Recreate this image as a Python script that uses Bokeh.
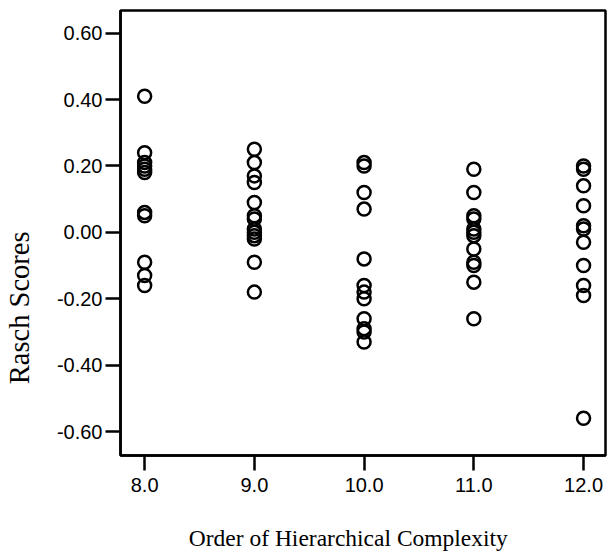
from bokeh.plotting import figure
from bokeh.models import Range1d, FixedTicker, LinearAxis, CustomJSTickFormatter
from bokeh.embed import file_html
from bokeh.resources import INLINE

# Data: Order of Hierarchical Complexity vs Rasch scores
ohc_8 = [0.41, 0.24, 0.21, 0.20, 0.19, 0.18, 0.06, 0.05, -0.09, -0.13, -0.16]
ohc_9 = [0.25, 0.21, 0.17, 0.15, 0.09, 0.05, 0.04, 0.01, 0.00, -0.01, -0.02, -0.09, -0.18]
ohc_10 = [0.21, 0.20, 0.12, 0.07, -0.08, -0.16, -0.18, -0.20, -0.26, -0.29, -0.30, -0.33]
ohc_11 = [0.19, 0.12, 0.05, 0.04, 0.01, 0.00, -0.01, -0.05, -0.09, -0.10, -0.15, -0.26]
ohc_12 = [0.20, 0.19, 0.14, 0.08, 0.02, 0.01, -0.03, -0.10, -0.16, -0.19, -0.56]
orders = [8.0, 9.0, 10.0, 11.0, 12.0]
x_ticks = [8.0, 9.0, 10.0, 11.0, 12.0]
y_ticks = [-0.6, -0.4, -0.2, 0.0, 0.2, 0.4, 0.6]

xs, ys = [], []
for o, vals in zip(orders, [ohc_8, ohc_9, ohc_10, ohc_11, ohc_12]):
    xs += [o] * len(vals)
    ys += vals

p = figure(width=607, height=555, output_backend="svg", toolbar_location=None,
           x_range=Range1d(7.78, 12.2), y_range=Range1d(-0.672, 0.668),
           min_border_left=120, min_border_right=2, min_border_top=10, min_border_bottom=100)
p.background_fill_color = "white"
p.border_fill_color = "white"
p.outline_line_color = "black"
p.outline_line_width = 2.5
p.xgrid.visible = False
p.ygrid.visible = False

p.scatter(xs, ys, size=13, marker="circle", fill_color=None, line_color="black", line_width=2.5)

for ax in (p.xaxis, p.yaxis):
    ax.axis_line_width = 2.5
    ax.major_tick_line_width = 2.5
    ax.major_tick_out = 15
    ax.major_tick_in = 0
    ax.minor_tick_out = 0
    ax.minor_tick_in = 0
    ax.major_label_text_font = "Liberation Sans"
    ax.major_label_text_font_size = "20px"
    ax.major_label_text_color = "black"

p.xaxis.ticker = FixedTicker(ticks=x_ticks)
p.yaxis.ticker = FixedTicker(ticks=y_ticks)
p.xaxis.formatter = CustomJSTickFormatter(code="return tick.toFixed(1);")
p.yaxis.formatter = CustomJSTickFormatter(code="return tick.toFixed(2);")
p.xaxis.major_label_standoff = 7
p.yaxis.major_label_standoff = 3


def title_axis(label, size, standoff):
    return LinearAxis(axis_label=label, ticker=FixedTicker(ticks=[]),
                      axis_line_color=None, major_tick_out=0, major_tick_in=0,
                      minor_tick_out=0, minor_tick_in=0, major_label_standoff=0,
                      axis_label_standoff=standoff,
                      axis_label_text_font="Liberation Serif",
                      axis_label_text_font_size=size,
                      axis_label_text_font_style="normal",
                      axis_label_text_color="black")


# non-breaking padding shifts the centred titles to the reference's off-centre positions
x_title = "Order of Hierarchical Complexity" + "\u00a0" * 5
y_title = "Rasch Scores" + "\u00a0" * 21
p.add_layout(title_axis(x_title, "23.5px", 30), "below")
p.add_layout(title_axis(y_title, "28.5px", 19), "left")

open("out.html", "w").write(file_html(p, INLINE))
